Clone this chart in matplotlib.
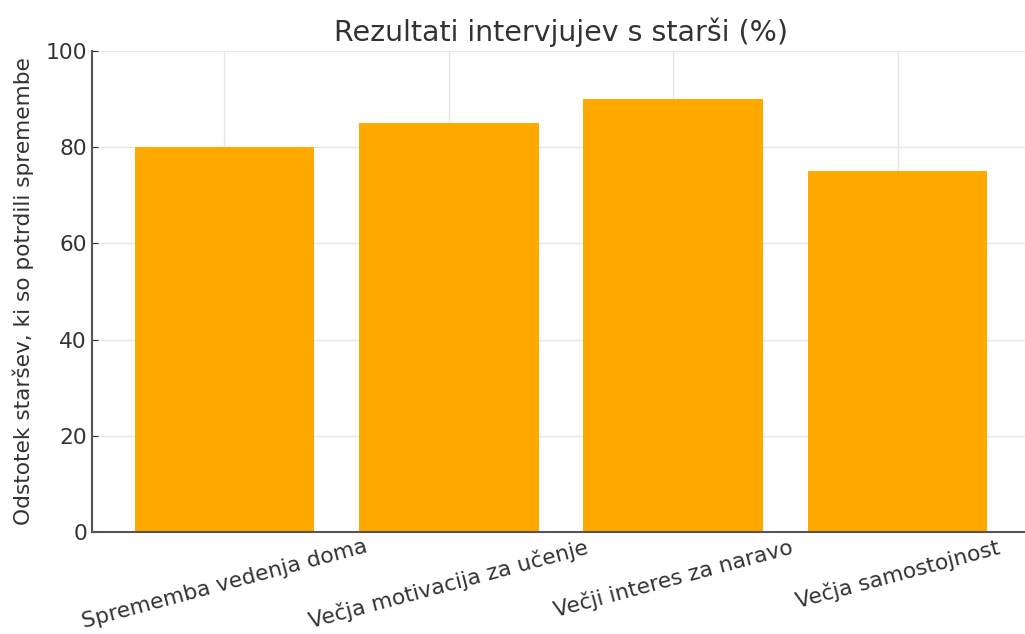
import matplotlib
matplotlib.use('Agg')
import matplotlib.pyplot as plt

categories = ['Sprememba vedenja doma', 'Večja motivacija za učenje',
              'Večji interes za naravo', 'Večja samostojnost']
values = [80, 85, 90, 75]

plt.rcParams['font.family'] = ['DejaVu Sans']
text_color = '#333333'

fig = plt.figure(figsize=(10.25, 6.34), dpi=100)
ax = fig.add_axes([0.0898, 0.161, 0.915, 0.7586])

ax.bar(categories, values, color='#FFA800', width=0.8, zorder=2)

ax.set_ylim(0, 100)
ax.set_yticks([0, 20, 40, 60, 80, 100])
ax.grid(True, color='#E6E6E6', linewidth=1, zorder=0)

for side in ['top', 'right']:
    ax.spines[side].set_visible(False)
for side in ['left', 'bottom']:
    ax.spines[side].set_color('#555555')
    ax.spines[side].set_linewidth(1.5)

ax.tick_params(direction='in', length=4, colors='#333333', labelsize=15.7)
plt.setp(ax.get_xticklabels(), rotation=15, ha='center', color=text_color)
plt.setp(ax.get_yticklabels(), color=text_color)

ax.set_ylabel('Odstotek staršev, ki so potrdili spremembe', fontsize=15.6,
              color=text_color, labelpad=8)
ax.set_title('Rezultati intervjujev s starši (%)', fontsize=20.5,
             color=text_color, pad=7)

fig.savefig('out.png', dpi=100)
